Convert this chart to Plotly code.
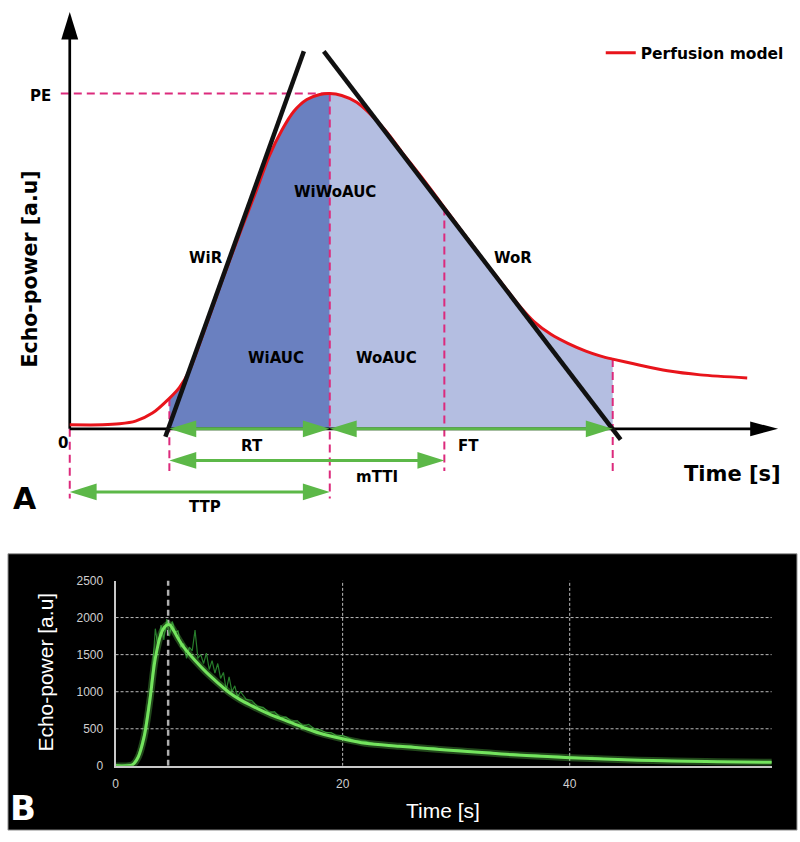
import numpy as np
import plotly.graph_objects as go

# ---------------- Panel A: schematic perfusion model ----------------
model_t = [0, 1.65, 2.5, 3.3, 4.15, 5.0, 5.5, 6.0, 6.65, 7.65, 8.65, 9.4, 10.0, 10.65, 11.25,
           11.9, 12.55, 13.05, 13.65, 14.4, 15.15, 15.9, 16.65, 17.65, 18.65, 19.65, 20.8,
           21.65, 22.5, 23.3, 24.15, 25.0, 25.9, 26.65, 27.25, 28.3, 30.0, 31.65, 34.0]
model_v = [1.2, 1.2, 1.5, 2.3, 4.7, 9.1, 12.3, 17.3, 27.6, 44.3, 60.1, 71.6, 81.2, 89.1, 94.7,
           98.2, 99.7, 100.0, 99.4, 97.4, 93.5, 88.6, 82.7, 75.1, 67.2, 59.2, 50.1,
           43.7, 37.2, 32.0, 28.2, 25.5, 23.2, 21.7, 20.8, 19.4, 17.3, 16.1, 15.2]

# key times: start of rise, time to peak, mean transit, end of fall
t_start, t_peak, t_mtt, t_end = 5.0, 13.05, 18.8, 27.25
pe_value = 100.0
# tangent lines (wash-in / wash-out rates)
wir_t, wir_v = [4.8, 11.75], [-2.35, 112.6]
wor_t, wor_v = [12.75, 27.65], [112.6, -3.2]
axis_x_end, axis_y_end = 35.55, 124.3

# ---------------- Panel B: measured curve ----------------
fit_t = [0, 1, 1.5, 2, 2.5, 3, 3.5, 4, 4.3, 4.6, 4.8, 5.1, 5.5, 6, 7, 8, 9, 10, 11, 12,
         13.5, 15, 16.5, 18, 20, 22, 25, 28, 31, 34, 37, 40, 43, 46, 49, 52, 55, 57.8]
fit_v = [0, 0, 15, 120, 380, 860, 1450, 1780, 1870, 1905, 1900, 1830, 1720, 1600, 1420,
         1260, 1120, 990, 890, 810, 700, 610, 520, 440, 365, 305, 265, 228, 195, 160, 133,
         111, 92, 76, 66, 58, 52, 49]
raw_t = [0, 0.5, 1, 1.5, 2, 2.5, 3, 3.25, 3.5, 3.75, 4, 4.25, 4.5, 4.75, 5, 5.25, 5.5, 5.75,
         6, 6.25, 6.5, 6.75, 7, 7.25, 7.5, 7.75, 8, 8.25, 8.5, 8.75, 9, 9.25, 9.5, 9.75, 10,
         10.25, 10.5, 10.75, 11, 11.5, 12, 12.5, 13, 13.5, 14, 14.5, 15, 15.5, 16, 16.5, 17,
         17.5, 18, 18.5, 19, 19.5, 20, 21, 22, 23, 24, 25, 26, 27, 28, 29, 30, 31, 32, 33, 34,
         35, 36, 37, 38, 39, 40, 41, 42, 43, 44, 45, 46, 47, 48, 49, 50, 51, 52, 53, 54, 55,
         56, 57, 57.8]
raw_v = [15, 5, 20, 25, 140, 430, 950, 1300, 1850, 1600, 1900, 1700, 1980, 1750, 1950, 1800,
         1820, 1600, 1650, 1450, 1600, 1550, 1830, 1450, 1500, 1380, 1520, 1300, 1420, 1250,
         1380, 1180, 1260, 1020, 1200, 1000, 1080, 930, 1000, 900, 880, 800, 790, 720, 730, 650,
         660, 600, 610, 540, 560, 500, 490, 450, 450, 400, 410, 340, 330, 290, 285, 255, 270,
         235, 245, 215, 220, 200, 185, 185, 160, 165, 145, 148, 128, 132, 125, 110, 115, 98,
         95, 85, 88, 78, 80, 70, 68, 70, 60, 62, 55, 57, 50, 54, 50]
b_peak_t = 4.63
b_xticks = [0, 20, 40]
b_yticks = [0, 500, 1000, 1500, 2000, 2500]

# ---------------- styling constants ----------------
W, H = 800, 842
PX_T, PX_P = 20.0, 3.41          # pixels per data unit in panel A
RED = "#e8141b"
PINK = "#dc2a7c"
GREEN = "#5cb848"
DARK_BLUE = "#6a80c0"
LIGHT_BLUE = "#b4bee1"
BOLD = dict(family="DejaVu Sans", weight="bold", color="black")

fig = go.Figure()


def seg(t0, t1):
    ts = [t0] + [t for t in model_t if t0 < t < t1] + [t1]
    vs = list(np.interp(ts, model_t, model_v))
    return ts, vs


# area fills
for (a, b), col in [((t_start, t_peak), DARK_BLUE), ((t_peak, t_end), LIGHT_BLUE)]:
    ts, vs = seg(a, b)
    fig.add_trace(go.Scatter(x=ts, y=vs, mode="lines", line=dict(width=0, shape="spline"),
                             fill="tozeroy", fillcolor=col, showlegend=False, hoverinfo="skip",
                             xaxis="x", yaxis="y"))

# pink dashed guide lines
dash = "8px,5px"
guides = [([-0.45, t_peak], [pe_value, pe_value]),
          ([0, 0], [0, -20.8]),
          ([t_start, t_start], [np.interp(t_start, model_t, model_v), -12.6]),
          ([t_peak, t_peak], [pe_value, -20.8]),
          ([t_mtt, t_mtt], [np.interp(t_mtt, model_t, model_v), -12.6]),
          ([t_end, t_end], [np.interp(t_end, model_t, model_v), -12.6])]
for gx, gy in guides:
    fig.add_trace(go.Scatter(x=gx, y=gy, mode="lines", line=dict(color=PINK, width=2, dash=dash),
                             showlegend=False, hoverinfo="skip", xaxis="x", yaxis="y"))

# axes of panel A
fig.add_trace(go.Scatter(x=[0, axis_x_end - 1.0], y=[0, 0], mode="lines",
                         line=dict(color="black", width=2.7), showlegend=False, hoverinfo="skip"))
fig.add_trace(go.Scatter(x=[0, 0], y=[0, axis_y_end - 6], mode="lines",
                         line=dict(color="black", width=2.7), showlegend=False, hoverinfo="skip"))

# red model curve
fig.add_trace(go.Scatter(x=model_t, y=model_v, mode="lines", name="Perfusion model",
                         line=dict(color=RED, width=3, shape="spline", smoothing=0.8),
                         showlegend=True, xaxis="x", yaxis="y"))

# tangent lines
for tx, ty in [(wir_t, wir_v), (wor_t, wor_v)]:
    fig.add_trace(go.Scatter(x=tx, y=ty, mode="lines", line=dict(color="#111111", width=4.5),
                             showlegend=False, hoverinfo="skip"))

# green double arrows
arrows = [(t_start, t_peak, 0.0), (t_peak, t_end, 0.0),
          (t_start, t_mtt, -9.4), (0.0, t_peak, -18.8)]
shapes = []
HL, HH = 27 / PX_T, 8.5 / PX_P
for a, b, p in arrows:
    fig.add_trace(go.Scatter(x=[a + 0.5, b - 0.5], y=[p, p], mode="lines",
                             line=dict(color=GREEN, width=3), showlegend=False, hoverinfo="skip"))
    for tip, d in [(a, -1), (b, 1)]:
        base = tip - d * HL
        shapes.append(dict(type="path", xref="x", yref="y", layer="above",
                           path=f"M{tip},{p} L{base},{p + HH} L{base},{p - HH} Z",
                           fillcolor=GREEN, line=dict(width=0)))

# black axis arrowheads
shapes.append(dict(type="path", xref="x", yref="y", layer="above",
                   path=f"M0,{axis_y_end} L{-8.5 / PX_T},{axis_y_end - 28 / PX_P} "
                        f"L{8.5 / PX_T},{axis_y_end - 28 / PX_P} Z",
                   fillcolor="black", line=dict(width=0)))
shapes.append(dict(type="path", xref="x", yref="y", layer="above",
                   path=f"M{axis_x_end},0 L{axis_x_end - 28 / PX_T},{7.5 / PX_P} "
                        f"L{axis_x_end - 28 / PX_T},{-7.5 / PX_P} Z",
                   fillcolor="black", line=dict(width=0)))

# ---------------- Panel B traces ----------------
shapes.insert(0, dict(type="rect", xref="paper", yref="paper", layer="below",
                      x0=5 / W, x1=797 / W, y0=1 - 837 / H, y1=1 - 556 / H,
                      fillcolor="black", line=dict(color="#9a9a9a", width=1)))
for yv in b_yticks[1:-1]:
    shapes.append(dict(type="line", xref="x2", yref="y2", layer="below", x0=0, x1=57.8,
                       y0=yv, y1=yv, line=dict(color="#bdbdbd", width=1, dash="3px,2px")))
for xv in b_xticks[1:]:
    shapes.append(dict(type="line", xref="x2", yref="y2", layer="below", x0=xv, x1=xv,
                       y0=0, y1=2500, line=dict(color="#bdbdbd", width=1, dash="3px,2px")))
shapes.append(dict(type="line", xref="x2", yref="y2", layer="below", x0=b_peak_t, x1=b_peak_t,
                   y0=0, y1=2500, line=dict(color="#b0b0b0", width=2.5, dash="6px,4px")))

fig.add_trace(go.Scatter(x=raw_t, y=raw_v, mode="lines", line=dict(color="#2c8a30", width=1.2),
                         opacity=0.9, showlegend=False, xaxis="x2", yaxis="y2"))
fig.add_trace(go.Scatter(x=fit_t, y=fit_v, mode="lines",
                         line=dict(color="rgba(110,235,90,0.3)", width=7, shape="spline"),
                         showlegend=False, hoverinfo="skip", xaxis="x2", yaxis="y2"))
fig.add_trace(go.Scatter(x=fit_t, y=fit_v, mode="lines",
                         line=dict(color="#74e45e", width=3, shape="spline"),
                         showlegend=False, xaxis="x2", yaxis="y2"))

# ---------------- annotations ----------------
ann = []
def lab(text, t, p, size=15, **kw):
    ann.append(dict(text=text, x=t, y=p, xref="x", yref="y", showarrow=False,
                    xanchor="center", yanchor="middle",
                    font=dict(size=size, **BOLD), **kw))

def plab(text, px, py, font, **kw):
    ann.append(dict(text=text, x=px / W, y=1 - py / H, xref="paper", yref="paper",
                    showarrow=False, xanchor="center", yanchor="middle", font=font, **kw))

lab("PE", -1.45, 99.4)
lab("0", -0.35, -4.1)
lab("WiR", 6.85, 51.0)
lab("WiWoAUC", 13.3, 70.7)
lab("WiAUC", 10.35, 21.1)
lab("WoAUC", 15.9, 21.1)
lab("WoR", 22.25, 51.0)
lab("RT", 9.15, -5.0)
lab("FT", 20.0, -5.0)
lab("mTTI", 15.4, -14.4)
lab("TTP", 6.8, -23.2)
lab("Time [s]", 33.25, -13.5, size=21)
lab("Echo-power [a.u]", -2.0, 47.8, size=20.5, textangle=-90)
plab("A", 22, 500, dict(size=30, **BOLD))
plab("B", 20, 815, dict(size=34, family="DejaVu Sans", weight="bold", color="white"))
plab("Echo-power [a.u]", 43, 676, dict(size=21, family="Liberation Sans", color="white"),
     textangle=-90)
plab("Time [s]", 442, 817, dict(size=21, family="Liberation Sans", color="white"))

fig.update_layout(
    width=W, height=H, margin=dict(l=0, r=0, t=0, b=0),
    paper_bgcolor="white", plot_bgcolor="rgba(0,0,0,0)",
    xaxis=dict(domain=[0, 1], range=[-67 / PX_T, 733 / PX_T], visible=False, fixedrange=True),
    yaxis=dict(domain=[1 - 525 / H, 1], range=[-96 / PX_P, 429 / PX_P], visible=False,
               fixedrange=True),
    xaxis2=dict(domain=[113 / W, 771.7 / W], range=[0, 57.8], anchor="y2",
                tickvals=b_xticks, showgrid=False, zeroline=False, showline=True,
                linecolor="#c8c8c8", linewidth=2, ticks="", ticklabelstandoff=6,
                tickfont=dict(family="Liberation Sans", size=12, color="#cfcfcf")),
    yaxis2=dict(domain=[1 - 771.7 / H, 1 - 583.2 / H], range=[0, 2500], anchor="x2",
                tickvals=b_yticks, showgrid=False, zeroline=False, showline=True,
                linecolor="#c8c8c8", linewidth=2, ticks="", ticklabelstandoff=8,
                tickfont=dict(family="Liberation Sans", size=12, color="#cfcfcf")),
    shapes=shapes, annotations=ann,
    legend=dict(x=0.75, y=1 - 47 / H, xanchor="left", yanchor="middle",
                bgcolor="rgba(0,0,0,0)", font=dict(size=15.5, **BOLD)),
)

page_css = ("document.documentElement.style.margin='0';"
            "document.documentElement.style.padding='0';"
            "document.documentElement.style.overflow='hidden';"
            "document.body.style.margin='0';"
            "document.body.style.padding='0';"
            "document.body.style.overflow='hidden';")
fig.write_html("out.html", config={"displayModeBar": False}, post_script=page_css)
